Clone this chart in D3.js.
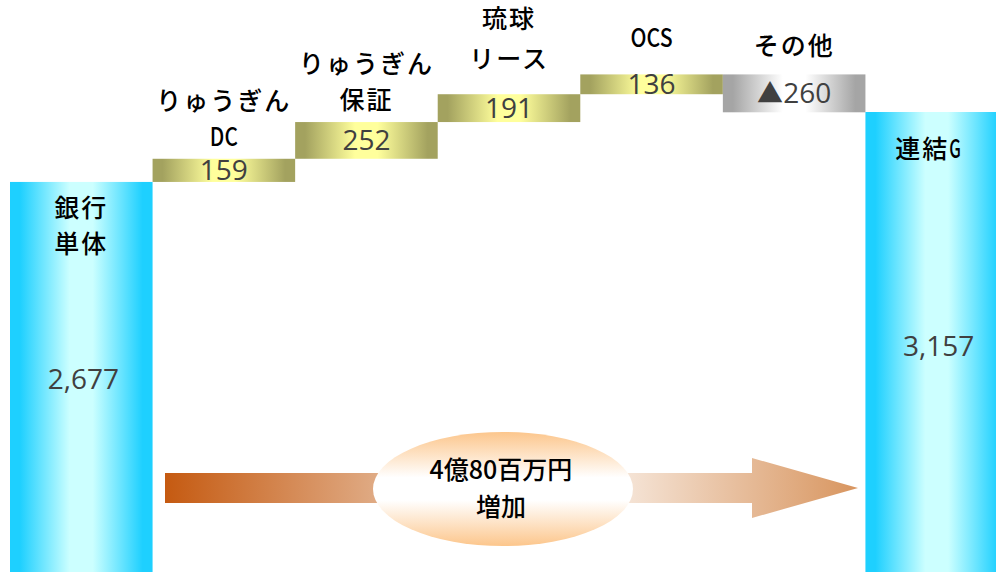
<!DOCTYPE html>
<html>
<head>
<meta charset="utf-8">
<script src="https://cdn.jsdelivr.net/npm/d3@7"></script>
<style>
  body { margin: 0; background: #fff; }
  .cat_labels { font-family: "Noto Sans CJK JP", sans-serif; font-size: 25px; font-weight: 500; fill: #000; text-anchor: middle; letter-spacing: 2px; }
  .data_labels { font-family: "Open Sans", "Liberation Sans", sans-serif; font-size: 28px; fill: #404040; text-anchor: middle; }
  .arrow_labels { font-family: "Noto Sans CJK JP", sans-serif; font-size: 25px; font-weight: 500; fill: #000; text-anchor: middle; }
</style>
</head>
<body>
<svg id="svg-waterfall" width="996" height="572"></svg>
<script>
var categories = ["銀行単体", "りゅうぎんDC", "りゅうぎん保証", "琉球リース", "OCS", "その他", "連結G"];
var labelLines = [["銀行", "単体"], ["りゅうぎん", "DC"], ["りゅうぎん", "保証"], ["琉球", "リース"], ["OCS"], ["その他"], ["連結G"]];
var values = [2677, 159, 252, 191, 136, -260, 3157];
var kinds = ["total", "plus", "plus", "plus", "plus", "minus", "total"];
var valueLabels = ["2,677", "159", "252", "191", "136", "▲260", "3,157"];
var arrowText = ["4億80百万円", "増加"];

var svg = d3.select("#svg-waterfall");

// running totals for the waterfall
var run = 0;
var bars = categories.map(function(c, i) {
  var v = values[i], y0, y1;
  if (kinds[i] == "total") { y0 = 0; y1 = v; run = v; }
  else { y0 = run; y1 = run + v; run = y1; }
  return {cat: c, lines: labelLines[i], kind: kinds[i], lo: Math.min(y0, y1), hi: Math.max(y0, y1), label: valueLabels[i]};
});

var x = d3.scaleBand().domain(categories).range([10, 1008]).padding(0);
var y = d3.scaleLinear().domain([0, 3157]).range([572, 112]);

var defs = svg.append("defs");
function hgrad(id, edge, mid) {
  var g = defs.append("linearGradient").attr("id", id).attr("x1", "0").attr("x2", "1").attr("y1", "0").attr("y2", "0");
  [[0, edge], [0.07, edge], [0.42, mid], [0.58, mid], [0.93, edge], [1, edge]].forEach(function(s) {
    g.append("stop").attr("offset", s[0]).attr("stop-color", s[1]);
  });
}
hgrad("g_total", "#1ed0ff", "#ccffff");
hgrad("g_plus", "#a3a25f", "#ffff9c");
hgrad("g_minus", "#a5a5a5", "#ffffff");

var ag = defs.append("linearGradient").attr("id", "g_arrow").attr("gradientUnits", "userSpaceOnUse")
  .attr("x1", 165).attr("x2", 858).attr("y1", 0).attr("y2", 0);
ag.append("stop").attr("offset", "0%").attr("stop-color", "#c55a11");
ag.append("stop").attr("offset", "30%").attr("stop-color", "#dfa982");
ag.append("stop").attr("offset", "55%").attr("stop-color", "#ffffff");
ag.append("stop").attr("offset", "100%").attr("stop-color", "#d8955f");

var eg = defs.append("linearGradient").attr("id", "g_ell").attr("x1", "0").attr("x2", "0").attr("y1", "0").attr("y2", "1");
eg.append("stop").attr("offset", "0%").attr("stop-color", "#fcc68c");
eg.append("stop").attr("offset", "40%").attr("stop-color", "#ffffff");
eg.append("stop").attr("offset", "60%").attr("stop-color", "#ffffff");
eg.append("stop").attr("offset", "100%").attr("stop-color", "#fcc68c");

svg.selectAll("bars")
    .data(bars)
    .enter()
    .append("rect")
    .attr("x", function(d) { return x(d.cat); })
    .attr("width", x.bandwidth())
    .attr("y", function(d) { return y(d.hi); })
    .attr("height", function(d) { return y(d.lo) - y(d.hi); })
    .style("fill", function(d) { return "url(#g_" + d.kind + ")"; });

// category labels, latin bits drawn half-width like the original
var gap = {"琉球リース": 26, "OCS": 27, "その他": 19};
var lineH = {"琉球リース": 40};
svg.selectAll("cat_labels")
    .data(bars)
    .enter()
    .append("text")
    .attr("class", "cat_labels")
    .attr("transform", function(d) {
      var cx = x(d.cat) + x.bandwidth()/2;
      var lh = lineH[d.cat] || 36;
      var top;
      if (d.cat == "連結G") top = y(d.hi) + 46;
      else if (d.kind == "total") top = y(d.hi) + 35;
      else top = y(d.hi) - (gap[d.cat] || 13) - (d.lines.length - 1) * lh;
      return "translate(" + cx + "," + top + ")";
    })
    .each(function(d) {
      var t = d3.select(this);
      var lh = lineH[d.cat] || 36;
      d.lines.forEach(function(l, i) {
        var ts = t.append("tspan").attr("x", 0).attr("y", i * lh).text(l);
        if (/^[A-Z]+$/.test(l)) {
          ts.attr("textLength", l.length * 14).attr("lengthAdjust", "spacingAndGlyphs").style("letter-spacing", "0px");
        }
        if (l == "連結G") {
          ts.text("連結");
          ts.attr("x", -8);
          t.append("tspan").text("G").attr("textLength", 13).attr("lengthAdjust", "spacingAndGlyphs");
        }
      });
    });

// value labels
svg.selectAll("data_labels")
    .data(bars)
    .enter()
    .append("text")
    .attr("class", "data_labels")
    .attr("x", function(d) { return x(d.cat) + x.bandwidth()/2 + (d.kind == "total" ? 2 : 0); })
    .attr("y", function(d) {
      if (d.kind == "total") return y(d.hi) + (y(d.lo) - y(d.hi)) * 0.53;
      return (y(d.hi) + y(d.lo)) / 2 + 10;
    })
    .each(function(d) {
      var t = d3.select(this);
      if (d.label.charAt(0) == "▲") {
        t.append("tspan").text("▲").style("font-family", "Noto Sans CJK JP").style("font-size", "26px");
        t.append("tspan").text(d.label.slice(1));
      } else {
        t.text(d.label);
      }
    });

// big arrow
var ax0 = 165, ax1 = 752, axTip = 858, acy = 488;
svg.append("path")
    .attr("d", "M" + ax0 + "," + (acy - 15) + "H" + ax1 + "V" + (acy - 30) + "L" + axTip + "," + acy +
               "L" + ax1 + "," + (acy + 30) + "V" + (acy + 15) + "H" + ax0 + "Z")
    .style("fill", "url(#g_arrow)");

svg.append("ellipse")
    .attr("cx", 503).attr("cy", 489).attr("rx", 130).attr("ry", 57)
    .style("fill", "url(#g_ell)");

svg.selectAll("arrow_labels")
    .data(arrowText)
    .enter()
    .append("text")
    .attr("class", "arrow_labels")
    .attr("x", 501)
    .attr("y", function(d, i) { return 479 + i * 37; })
    .text(function(d) { return d; });
</script>
</body>
</html>
